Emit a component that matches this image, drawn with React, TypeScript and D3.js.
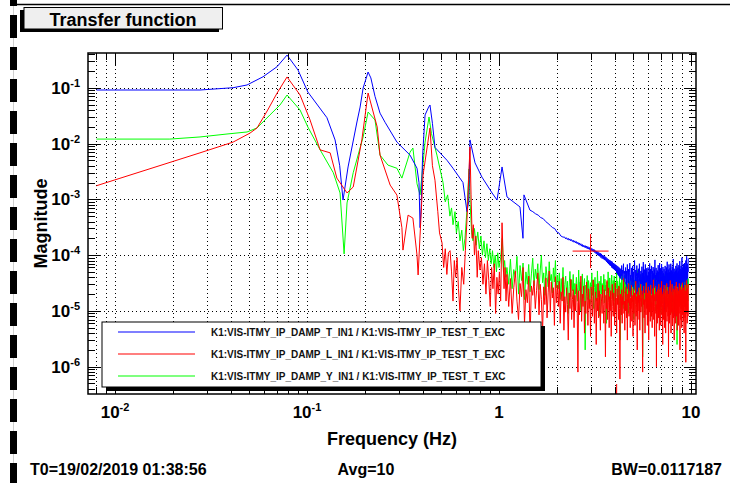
import React from 'react';
import * as d3 from 'd3';

const W = 730;
const H = 483;
const FONT = '"Liberation Sans", Arial, Helvetica, sans-serif';

// ---- text ----
const TITLE = 'Transfer function';
const X_TITLE = 'Frequency (Hz)';
const Y_TITLE = 'Magnitude';
const FOOT_LEFT = 'T0=19/02/2019 01:38:56';
const FOOT_MID = 'Avg=10';
const FOOT_RIGHT = 'BW=0.0117187';
const LEGEND = [
  'K1:VIS-ITMY_IP_DAMP_T_IN1 / K1:VIS-ITMY_IP_TEST_T_EXC',
  'K1:VIS-ITMY_IP_DAMP_L_IN1 / K1:VIS-ITMY_IP_TEST_T_EXC',
  'K1:VIS-ITMY_IP_DAMP_Y_IN1 / K1:VIS-ITMY_IP_TEST_T_EXC',
];
const COLORS = ['#0000ff', '#ff0000', '#00ff00'];

// ---- axes ----
const X_DOMAIN = [0.00723, 10.62];
const Y_DOMAIN = [3.24e-7, 0.419];
const X_TICK_LABELS = [
  { v: 0.01, base: '10', exp: '-2' },
  { v: 0.1, base: '10', exp: '-1' },
  { v: 1, base: '1', exp: '' },
  { v: 10, base: '10', exp: '' },
];
const Y_TICK_EXPS = [-1, -2, -3, -4, -5, -6];

// ---- data: [frequency Hz, magnitude] ----
const blueMain: [number, number][] = [
  [0.008, 0.091], [0.0277, 0.091], [0.0412, 0.1], [0.0487, 0.112], [0.059, 0.157],
  [0.0698, 0.238], [0.0787, 0.385], [0.0898, 0.207], [0.101, 0.0837], [0.127, 0.029],
  [0.14, 0.0116], [0.148, 0.004], [0.154, 0.00097], [0.1636, 0.0038], [0.182, 0.0243],
  [0.189, 0.045], [0.196, 0.0988], [0.208, 0.191], [0.215, 0.15], [0.226, 0.07],
  [0.24, 0.035], [0.255, 0.024], [0.294, 0.0106], [0.344, 0.0062], [0.374, 0.0036],
  [0.383, 0.002], [0.388, 0.00031], [0.393, 0.0007], [0.4, 0.006], [0.412, 0.0325],
  [0.43, 0.045], [0.437, 0.049], [0.45, 0.023], [0.464, 0.0085], [0.536, 0.005],
  [0.576, 0.0036], [0.649, 0.002], [0.681, 0.0006], [0.695, 0.0009], [0.706, 0.0116],
  [0.75, 0.0045], [0.815, 0.0025], [0.92, 0.0013], [0.977, 0.00097], [1.037, 0.0038],
  [1.101, 0.0011], [1.286, 0.00073], [1.333, 0.0002], [1.349, 0.0012], [1.449, 0.00064],
  [1.5, 0.0006], [1.55, 0.00055], [1.6, 0.00052], [1.65, 0.00047], [1.7, 0.00045],
  [1.75, 0.0004], [1.8, 0.00037], [1.85, 0.00034], [1.9, 0.00031], [1.95, 0.0003],
  [2.0, 0.00026], [2.05, 0.00025], [2.1, 0.00022], [2.154, 0.00021],
];
const redMain: [number, number][] = [
  [0.008, 0.00175], [0.0277, 0.0068], [0.0412, 0.0106], [0.0505, 0.0154], [0.0549, 0.019],
  [0.059, 0.0287], [0.0624, 0.0398], [0.0698, 0.08], [0.0787, 0.156], [0.092, 0.074],
  [0.1037, 0.0264], [0.117, 0.0077], [0.132, 0.0068], [0.143, 0.0024], [0.1616, 0.0013],
  [0.174, 0.00166], [0.193, 0.0116], [0.208, 0.0804], [0.232, 0.0198], [0.24, 0.0062],
  [0.271, 0.0018], [0.294, 0.00119], [0.312, 0.00031], [0.316, 0.000123], [0.336, 0.00052],
  [0.356, 0.00046], [0.374, 0.0001], [0.379, 4.4e-5], [0.402, 0.0027], [0.437, 0.019],
  [0.45, 0.004], [0.464, 0.0022], [0.48, 0.0006], [0.49, 0.00025], [0.505, 0.000165],
  [0.515, 6e-5], [0.525, 0.00013], [0.535, 4.5e-5], [0.545, 0.00011], [0.556, 0.00012],
  [0.566, 5e-5], [0.576, 1.5e-5], [0.585, 8e-5], [0.595, 4e-5], [0.605, 9e-5],
  [0.615, 2.5e-5], [0.626, 1.0e-5], [0.64, 6e-5], [0.655, 3e-5], [0.668, 0.00012],
  [0.681, 0.00043], [0.706, 0.0087], [0.715, 0.0012], [0.725, 0.0002], [0.735, 0.00035],
  [0.745, 0.0001], [0.757, 0.00022], [0.77, 4e-5], [0.78, 0.00012], [0.796, 5.4e-5],
  [0.81, 9e-5], [0.825, 3e-5], [0.84, 7e-5], [0.855, 2e-5], [0.87, 8e-5],
  [0.885, 3.5e-5], [0.9, 1.2e-5], [0.915, 6e-5], [0.93, 2.5e-5], [0.945, 7e-5],
  [0.96, 9e-6], [0.975, 4e-5], [0.99, 2e-5], [1.005, 5e-5], [1.02, 1.5e-5],
  [1.037, 0.00038], [1.049, 0.00011], [1.062, 2.5e-5], [1.075, 6e-5], [1.088, 1.5e-5],
];
const greenMain: [number, number][] = [
  [0.008, 0.012], [0.0193, 0.012], [0.0277, 0.0131], [0.0383, 0.0148], [0.0487, 0.0161],
  [0.0549, 0.019], [0.0641, 0.0325], [0.0723, 0.049], [0.0787, 0.074], [0.092, 0.0398],
  [0.101, 0.0198], [0.117, 0.0077], [0.137, 0.003], [0.1486, 0.0013], [0.156, 0.000105],
  [0.1616, 0.00086], [0.174, 0.003], [0.196, 0.0131], [0.208, 0.0367], [0.226, 0.0264],
  [0.24, 0.0062], [0.264, 0.0041], [0.294, 0.0036], [0.312, 0.0024], [0.344, 0.007],
  [0.356, 0.0083], [0.374, 0.0019], [0.388, 0.0012], [0.412, 0.0106], [0.432, 0.0299],
  [0.445, 0.015], [0.475, 0.0062], [0.511, 0.002], [0.525, 0.0009], [0.54, 0.0012],
  [0.555, 0.0005], [0.566, 0.0007], [0.576, 0.00035], [0.59, 0.0006], [0.6, 0.00025],
  [0.613, 0.0004], [0.626, 0.00018], [0.64, 0.00028], [0.652, 0.00012], [0.665, 0.0002],
  [0.68, 0.0006], [0.698, 0.0035], [0.708, 0.0008], [0.72, 0.00025], [0.732, 0.00018],
  [0.745, 0.0003], [0.76, 0.00015], [0.775, 0.00026], [0.79, 0.00013], [0.805, 0.00022],
  [0.82, 0.0001], [0.835, 0.00018], [0.85, 9e-5], [0.865, 0.00016], [0.88, 8e-5],
  [0.895, 0.00013], [0.91, 7e-5], [0.925, 0.00012], [0.94, 6e-5], [0.955, 0.0001],
  [0.97, 5e-5], [0.985, 0.00011], [1.0, 6e-5], [1.02, 9e-5], [1.04, 0.0002],
  [1.055, 5e-5], [1.07, 8e-5], [1.085, 4e-5],
];

// noisy high-frequency tails: one value every 2 frequency bins (2 x BW),
// magnitudes given in units of 1e-7
const TAIL_STEP = 2 * 0.0117187;
const TAIL_UNIT = 1e-7;
const BLUE_TAIL_START = 2.2;
const blueTail = [
  2100, 1950, 2050, 1900, 2000, 1850, 1950, 1800, 1900, 1750, 1850, 1700, 1800, 1650, 1750, 1600, 1700, 1550, 1650, 1500,
  1600, 1450, 1550, 1400, 1500, 1380, 1480, 1350, 1450, 1300, 1420, 1280, 1380, 1250, 1350, 1200, 1320, 1180, 1280, 1150,
  1250, 1100, 1200, 1050, 1180, 1000, 1150, 980, 1100, 950, 1080, 900, 1050, 870, 1000, 850, 980, 820, 950, 800,
  920, 760, 880, 720, 850, 690, 820, 660, 800, 640, 780, 600, 760, 580, 720, 560, 700, 540, 680, 520,
  660, 480, 640, 450, 620, 430, 600, 400, 580, 380, 560, 420, 650, 360, 540, 470, 700, 330, 520, 450,
  380, 600, 300, 520, 250, 680, 420, 310, 560, 220, 480, 720, 350, 440, 180, 590, 400, 270, 640, 330,
  500, 240, 460, 800, 360, 290, 540, 200, 420, 650, 310, 480, 140, 570, 380, 260, 700, 340, 450, 230,
  520, 410, 300, 620, 190, 480, 360, 750, 280, 440, 550, 210, 390, 680, 320, 460, 250, 580, 120, 430,
  340, 600, 270, 500, 420, 230, 710, 380, 310, 560, 200, 450, 640, 290, 400, 520, 180, 610, 350, 470,
  260, 550, 390, 820, 300, 440, 210, 590, 360, 480, 150, 530, 410, 270, 660, 330, 500, 240, 430, 720,
  310, 460, 580, 220, 400, 350, 690, 280, 520, 190, 440, 610, 330, 470, 250, 560, 100, 420, 370, 640,
  290, 510, 380, 230, 600, 440, 320, 760, 270, 480, 350, 550, 200, 430, 680, 310, 490, 260, 580, 400,
  340, 700, 250, 460, 530, 180, 410, 620, 300, 500, 380, 850, 280, 450, 220, 570, 360, 490, 80, 430,
  520, 300, 640, 380, 250, 560, 430, 710, 320, 480, 270, 600, 390, 510, 230, 660, 350, 450, 300, 780,
  420, 560, 260, 490, 380, 640, 310, 530, 450, 900, 290, 470, 600, 350, 520, 240, 690, 410, 560, 330,
  480, 720, 370, 550, 290, 620, 450, 800, 340, 510, 420, 950, 300, 580, 460, 700, 380, 610, 500, 880,
];
const RED_TAIL_START = 1.1;
const redTail = [
  450, 120, 380, 90, 260, 520, 150, 70, 310, 180, 600, 60, 240, 140, 420, 35, 280, 190, 350, 110,
  230, 480, 85, 300, 160, 40, 270, 130, 390, 75, 210, 520, 95, 330, 170, 260, 55, 410, 140, 290,
  120, 340, 60, 220, 150, 400, 45, 180, 95, 260, 130, 30, 210, 110, 370, 70, 160, 240, 50, 190,
  100, 300, 140, 8, 230, 85, 170, 420, 65, 200, 120, 280, 40, 150, 90, 330, 180, 55, 250, 110,
  160, 35, 270, 130, 80, 360, 190, 60, 140, 220, 25, 170, 100, 310, 75, 230, 120, 45, 200, 150,
  90, 290, 130, 60, 240, 170, 15, 190, 110, 350, 70, 140, 260, 50, 180, 100, 230, 35, 160, 300,
  120, 80, 210, 140, 55, 320, 95, 170, 40, 250, 130, 190, 70, 280, 110, 6, 200, 150, 85, 240,
  60, 180, 130, 380, 90, 150, 45, 220, 100, 270, 75, 160, 30, 200, 140, 310, 80, 120, 230, 50,
  170, 110, 290, 65, 190, 140, 35, 250, 90, 160, 210, 55, 130, 340, 80, 180, 120, 20, 220, 100,
  150, 260, 70, 190, 45, 140, 300, 95, 170, 120, 230, 60, 8, 200, 130, 280, 75, 160, 105, 40,
  240, 140, 85, 320, 110, 180, 55, 210, 130, 270, 30, 160, 95, 230, 150, 65, 290, 120, 190, 80,
  140, 50, 250, 170, 100, 360, 70, 200, 120, 35, 180, 150, 280, 90, 130, 10, 220, 160, 60, 240,
  110, 190, 75, 300, 140, 45, 230, 100, 170, 260, 55, 150, 120, 340, 85, 200, 130, 25, 180, 220,
  70, 160, 290, 110, 50, 210, 140, 180, 40, 250, 95, 130, 310, 65, 170, 120, 230, 80, 150, 15,
  200, 130, 270, 60, 180, 110, 350, 85, 140, 40, 220, 170, 95, 300, 120, 55, 190, 150, 250, 75,
  160, 120, 30, 240, 140, 90, 280, 170, 60, 210, 110, 330, 80, 150, 200, 45, 130, 260, 100, 180,
  55, 230, 140, 90, 310, 120, 175, 20, 200, 130, 270, 70, 160, 110, 240, 50, 190, 140, 320, 85,
  150, 210, 65, 130, 260, 100, 40, 180, 120, 290, 75, 170, 140, 230, 12, 200, 110, 350, 90, 160,
  130, 60, 250, 150, 100, 300, 80,
];
const GREEN_TAIL_START = 1.1;
const greenTail = [
  600, 300, 850, 250, 550, 400, 950, 200, 650, 350, 720, 160, 500, 300, 680, 220, 460, 880, 280, 560,
  380, 700, 240, 520, 1000, 320, 480, 190, 620, 410, 270, 760, 350, 450, 210, 590, 330, 800, 260, 440,
  250, 480, 160, 380, 220, 600, 140, 300, 420, 190, 340, 90, 270, 510, 180, 360, 230, 450, 120, 310,
  200, 400, 260, 150, 540, 230, 330, 100, 280, 460, 170, 240, 380, 20, 290, 210, 430, 160, 350, 250,
  130, 320, 270, 480, 190, 360, 110, 260, 400, 220, 300, 150, 520, 240, 180, 340, 80, 280, 420, 200,
  310, 170, 250, 450, 140, 370, 230, 290, 60, 330, 210, 500, 260, 160, 390, 240, 120, 300, 440, 190,
  270, 350, 150, 420, 230, 100, 310, 260, 560, 180, 340, 220, 280, 130, 400, 250, 30, 320, 200, 460,
  240, 160, 360, 290, 110, 430, 210, 330, 180, 270, 510, 150, 300, 240, 90, 380, 220, 340, 170, 280,
  200, 390, 260, 140, 320, 470, 190, 250, 70, 360, 230, 300, 160, 410, 280, 120, 340, 210, 530, 250,
  180, 310, 240, 100, 380, 270, 200, 450, 150, 290, 220, 360, 15, 260, 330, 190, 420, 240, 140, 300,
  350, 210, 270, 490, 160, 320, 230, 110, 390, 250, 180, 300, 440, 200, 140, 340, 260, 80, 310, 230,
  280, 170, 400, 240, 310, 130, 360, 200, 270, 480, 150, 290, 220, 100, 350, 260, 190, 420, 230, 300,
  160, 340, 250, 120, 380, 210, 290, 520, 170, 260, 330, 90, 300, 230, 410, 180, 270, 140, 360, 240,
  310, 200, 450, 160, 280, 240, 60, 330, 190, 390, 250, 150, 300, 220, 470, 180, 340, 260, 110, 290,
  230, 370, 170, 280, 420, 140, 310, 250, 200, 500, 160, 330, 240, 90, 360, 270, 190, 410, 220, 300,
  150, 290, 350, 210, 120, 400, 260, 180, 320, 240, 540, 170, 280, 200, 25, 340, 230, 390, 160, 270,
  310, 190, 430, 250, 140, 300, 220, 360, 170, 270, 480, 200, 330, 110, 290, 240, 380, 150, 310, 230,
  260, 400, 180, 300, 140, 350, 220, 460, 190, 280, 240, 120, 370, 210, 320, 160, 420, 250, 190, 330,
  270, 500, 200, 340, 150, 380, 260,
];

// a stray cursor marker seen in the reference
const MARKER: [number, number] = [3.0, 1.18e-4];
const MARKER_TICK_F = 4.1;

function withTail(main: [number, number][], start: number, tail: number[]): [number, number][] {
  return main.concat(tail.map((m, i) => [start + i * TAIL_STEP, m * TAIL_UNIT] as [number, number]));
}

const SERIES = [
  withTail(blueMain, BLUE_TAIL_START, blueTail),
  withTail(redMain, RED_TAIL_START, redTail),
  withTail(greenMain, GREEN_TAIL_START, greenTail),
];

// frame
const FL = 88, FR = 696, FT = 53, FB = 394;

export default function App() {
  const x = d3.scaleLog().domain(X_DOMAIN).range([FL, FR]);
  const y = d3.scaleLog().domain(Y_DOMAIN).range([FB, FT]);
  const line = d3
    .line<[number, number]>()
    .x((d) => x(d[0]))
    .y((d) => y(d[1]));

  const xTicks: { v: number; major: boolean }[] = [];
  for (let k = -3; k <= 1; k++) {
    for (let m = 1; m <= 9; m++) {
      const v = m * Math.pow(10, k);
      if (v >= X_DOMAIN[0] && v <= X_DOMAIN[1]) xTicks.push({ v, major: m === 1 });
    }
  }
  const yTicks: { v: number; major: boolean }[] = [];
  for (let k = -7; k <= -1; k++) {
    for (let m = 1; m <= 9; m++) {
      const v = m * Math.pow(10, k);
      if (v >= Y_DOMAIN[0] && v <= Y_DOMAIN[1]) yTicks.push({ v, major: m === 1 });
    }
  }

  const dashes: number[] = [];
  for (let k = -1; k < 16; k++) dashes.push(15 + 32 * k);

  const drawOrder = [2, 0, 1];
  const MAJ = 12, MIN = 7;

  // legend geometry
  const LX = 102, LY = 322, LW = 439, LH = 65;

  return (
    <svg width={W} height={H} style={{ position: 'absolute', left: 0, top: 0, background: '#fff' }}
      fontFamily={FONT}>
      <rect x={0} y={0} width={W} height={H} fill="#fff" />
      {/* left dashed border */}
      <line x1={13.5} y1={0} x2={13.5} y2={H} stroke="#cfcfcf" strokeWidth={1} />
      {dashes.map((d, i) => (
        <rect key={i} x={10} y={d} width={7} height={23} fill="#000" />
      ))}
      {/* top border */}
      <line x1={17} y1={4.5} x2={W} y2={4.5} stroke="#000" strokeWidth={1.6} />

      {/* title box */}
      <rect x={20} y={10} width={199} height={22} fill="#000" />
      <rect x={24} y={7.5} width={198.5} height={21.5} fill="#efefef" stroke="#000" strokeWidth={1} />
      <text x={123} y={26} textAnchor="middle" fontSize={18} fontWeight="bold" fill="#000">
        {TITLE}
      </text>

      <defs>
        <clipPath id="frameClip">
          <rect x={FL} y={FT} width={FR - FL} height={FB - FT} />
        </clipPath>
      </defs>

      {/* grid */}
      <g stroke="#000" strokeWidth={1} strokeDasharray="1,3">
        {xTicks.map((t, i) => (
          <line key={'gx' + i} x1={Math.round(x(t.v)) + 0.5} x2={Math.round(x(t.v)) + 0.5} y1={FT} y2={FB} />
        ))}
        {yTicks.filter((t) => t.major).map((t, i) => (
          <line key={'gy' + i} x1={FL} x2={FR} y1={Math.round(y(t.v)) + 0.5} y2={Math.round(y(t.v)) + 0.5} />
        ))}
      </g>

      {/* data */}
      <g clipPath="url(#frameClip)" fill="none" strokeWidth={1}>
        {drawOrder.map((s) => (
          <path key={s} d={line(SERIES[s]) || ''} stroke={COLORS[s]} />
        ))}
        <g stroke="#ff0000">
          <line x1={x(MARKER[0]) - 18} x2={x(MARKER[0]) + 18} y1={y(MARKER[1])} y2={y(MARKER[1])} />
          <line x1={x(MARKER[0])} x2={x(MARKER[0])} y1={y(MARKER[1]) - 17} y2={y(MARKER[1]) + 17} />
          <line x1={x(MARKER_TICK_F)} x2={x(MARKER_TICK_F)} y1={FB - 10} y2={FB} />
        </g>
      </g>

      {/* ticks */}
      <g stroke="#000" strokeWidth={1}>
        {xTicks.map((t, i) => {
          const px = Math.round(x(t.v)) + 0.5;
          const len = t.major ? MAJ : MIN;
          return (
            <g key={'tx' + i}>
              <line x1={px} x2={px} y1={FB} y2={FB - len} />
              <line x1={px} x2={px} y1={FT} y2={FT + len} />
            </g>
          );
        })}
        {yTicks.map((t, i) => {
          const py = Math.round(y(t.v)) + 0.5;
          const len = t.major ? MAJ : MIN;
          return (
            <g key={'ty' + i}>
              <line x1={FL} x2={FL + len} y1={py} y2={py} />
              <line x1={FR} x2={FR - len} y1={py} y2={py} />
            </g>
          );
        })}
      </g>
      <rect x={FL} y={FT} width={FR - FL} height={FB - FT} fill="none" stroke="#000" strokeWidth={1.5} />

      {/* tick labels */}
      <g fontWeight="bold" fill="#000">
        {Y_TICK_EXPS.map((e) => (
          <text key={'yl' + e} x={80} y={y(Math.pow(10, e)) + 6} textAnchor="end" fontSize={17}>
            <tspan>10</tspan>
            <tspan dy={-7} fontSize={11}>{String(e)}</tspan>
          </text>
        ))}
        {X_TICK_LABELS.map((t) => (
          <text key={'xl' + t.v} x={x(t.v)} y={418} textAnchor="middle" fontSize={17}>
            <tspan>{t.base}</tspan>
            {t.exp ? <tspan dy={-7} fontSize={11}>{t.exp}</tspan> : null}
          </text>
        ))}
      </g>

      {/* axis titles */}
      <text x={(FL + FR) / 2} y={445} textAnchor="middle" fontSize={18} fontWeight="bold">{X_TITLE}</text>
      <text transform={`translate(47,${(FT + FB) / 2}) rotate(-90)`} textAnchor="middle" fontSize={18} fontWeight="bold">
        {Y_TITLE}
      </text>

      {/* legend */}
      <rect x={LX + 4} y={LY + 4} width={LW} height={LH} fill="#000" />
      <rect x={LX} y={LY} width={LW} height={LH} fill="#fff" stroke="#000" strokeWidth={1} />
      {LEGEND.map((txt, i) => {
        const cy = LY + 10 + i * 22;
        return (
          <g key={'lg' + i}>
            <line x1={118} x2={195} y1={cy} y2={cy} stroke={COLORS[i]} strokeWidth={1.2} />
            <text x={211} y={cy + 4} fontSize={10} fontWeight="bold" fill="#111">{txt}</text>
          </g>
        );
      })}

      {/* footer */}
      <g fontSize={16} fontWeight="bold" fill="#000">
        <text x={30} y={475}>{FOOT_LEFT}</text>
        <text x={366} y={475} textAnchor="middle">{FOOT_MID}</text>
        <text x={722} y={475} textAnchor="end">{FOOT_RIGHT}</text>
      </g>
    </svg>
  );
}
